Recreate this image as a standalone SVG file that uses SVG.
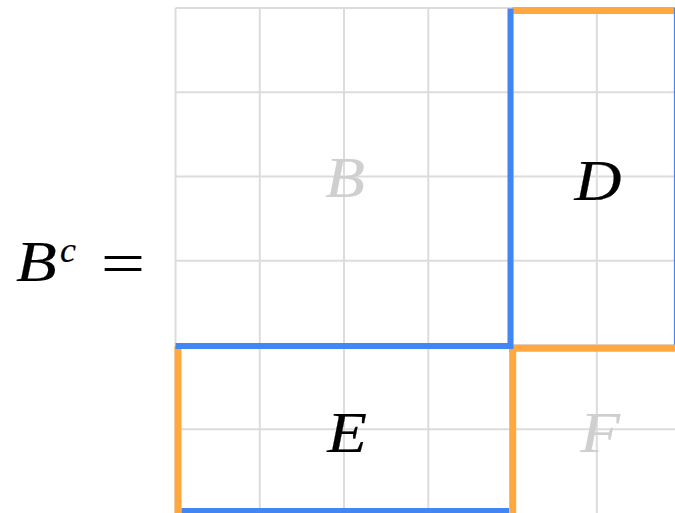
<svg xmlns="http://www.w3.org/2000/svg" width="675" height="513" viewBox="0 0 675 513">
<style>
.grid line{stroke:#dcdcdc;stroke-width:2}
.blue{stroke:#4286f4;stroke-width:6;fill:none}
.orange{stroke:#ffa83f;stroke-width:7;fill:none}
.lbl{font-family:"Liberation Serif","DejaVu Serif",serif;font-style:italic;font-size:58px;text-anchor:middle;stroke-width:0.25}
.gray{fill:#cfcfcf;stroke:#cfcfcf}
.dark{fill:#000;stroke:#000}
.math{font-family:"Liberation Serif","DejaVu Serif",serif;fill:#000;stroke:#000;stroke-width:0.2}
</style>
<rect width="675" height="513" fill="#fff"/>
<g class="grid" id="grid">
<line x1="175.5" y1="8" x2="175.5" y2="513"/>
<line x1="259.8" y1="8" x2="259.8" y2="513"/>
<line x1="344" y1="8" x2="344" y2="513"/>
<line x1="428.3" y1="8" x2="428.3" y2="513"/>
<line x1="512.5" y1="8" x2="512.5" y2="513"/>
<line x1="596.8" y1="8" x2="596.8" y2="513"/>
<line x1="175.5" y1="8" x2="675" y2="8"/>
<line x1="175.5" y1="92.3" x2="675" y2="92.3"/>
<line x1="175.5" y1="176.5" x2="675" y2="176.5"/>
<line x1="175.5" y1="260.8" x2="675" y2="260.8"/>
<line x1="175.5" y1="345" x2="675" y2="345"/>
<line x1="175.5" y1="429.3" x2="675" y2="429.3"/>
</g>
<g id="node-B">
<text class="lbl gray" transform="translate(345 197) scale(1.12 1)" x="0" y="0">B</text>
</g>
<g id="node-D">
<line class="orange" x1="512.5" y1="10.5" x2="675" y2="10.5"/>
<line x1="674.5" y1="8" x2="674.5" y2="345" stroke="#4286f4" stroke-width="1.2"/>
<text class="lbl dark" transform="translate(598 200) scale(1.12 1)" x="0" y="0">D</text>
</g>
<g id="node-F">
<line class="orange" x1="509" y1="348.3" x2="675" y2="348.3"/>
<text class="lbl gray" transform="translate(600 452) scale(1.12 1)" x="0" y="0">F</text>
</g>
<g id="node-E">
<line class="orange" x1="178" y1="346" x2="178" y2="513"/>
<line class="orange" x1="512.7" y1="345" x2="512.7" y2="513"/>
<line class="blue" x1="175.5" y1="346" x2="512" y2="346"/>
<line class="blue" x1="181.5" y1="511" x2="509" y2="511"/>
<text class="lbl dark" transform="translate(347 452) scale(1.12 1)" x="0" y="0">E</text>
</g>
<g id="connectors">
<line class="blue" x1="510.5" y1="8.5" x2="510.5" y2="349"/>
</g>
<g id="title">
<text class="math" transform="translate(16 281) scale(1.15 1)" font-style="italic" font-size="58">B</text>
<text class="math" x="60" y="262" font-style="italic" font-size="36">c</text>
<text class="math" transform="translate(101 283) scale(1.3 1)" font-size="60" stroke-width="0">=</text>
</g>
</svg>
